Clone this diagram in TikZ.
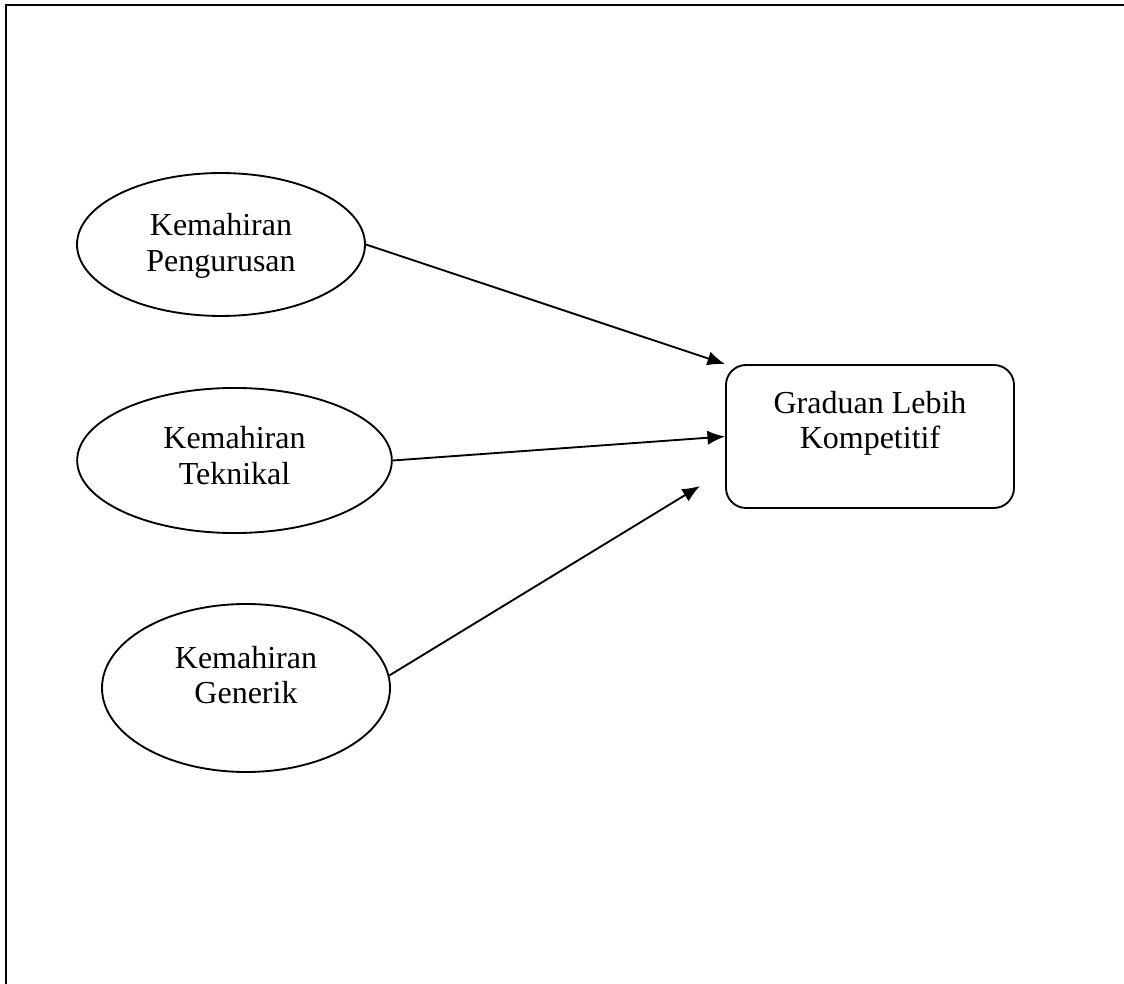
\documentclass[tikz,border=0pt]{standalone}
\usepackage{fontspec}
\setmainfont{Liberation Serif}
\usepackage{tikz}
\usetikzlibrary{shapes.geometric,arrows.meta}
\newcommand{\twoline}[3]{\raisebox{#1}[\height][\depth]{\begin{tabular}{@{}c@{}}#2\\#3\end{tabular}}}
\tikzset{
  skill/.style={draw,ellipse,line width=0.7pt,inner sep=0pt},
  goal/.style={draw,rectangle,rounded corners=7.5pt,line width=0.7pt,inner sep=0pt,minimum width=108pt,minimum height=53.6pt},
  link/.style={line width=0.7pt,-{Latex[length=6.6pt,width=5.4pt]}}
}
\begin{document}
\begin{tikzpicture}[x=0.375pt,y=-0.375pt,font=\fontsize{12}{13.2}\selectfont]
\useasboundingbox (0,0) rectangle (1124,984);
\draw[line width=1.1pt] (6,984) -- (6,5) -- (1124,5);
\node (peng) at (221,244.5)[skill,minimum width=108pt,minimum height=53.6pt] {\twoline{-0.7pt}{Kemahiran}{Pengurusan}};
\node (tekn) at (234.5,460.5)[skill,minimum width=118pt,minimum height=54.4pt] {\twoline{0.4pt}{Kemahiran}{Teknikal}};
\node (gen) at (246,688)[skill,minimum width=108pt,minimum height=63pt] {\twoline{3.4pt}{Kemahiran}{Generik}};
\node (grad) at (870,436.5)[goal] {\twoline{4.7pt}{Graduan Lebih}{Kompetitif}};
\coordinate (gtip) at (700,486);
\draw[link] (peng.east) -- (grad.north west);
\draw[link] (tekn.east) -- (grad.west);
\draw[link] (gen.5) -- (gtip);
\end{tikzpicture}
\end{document}
